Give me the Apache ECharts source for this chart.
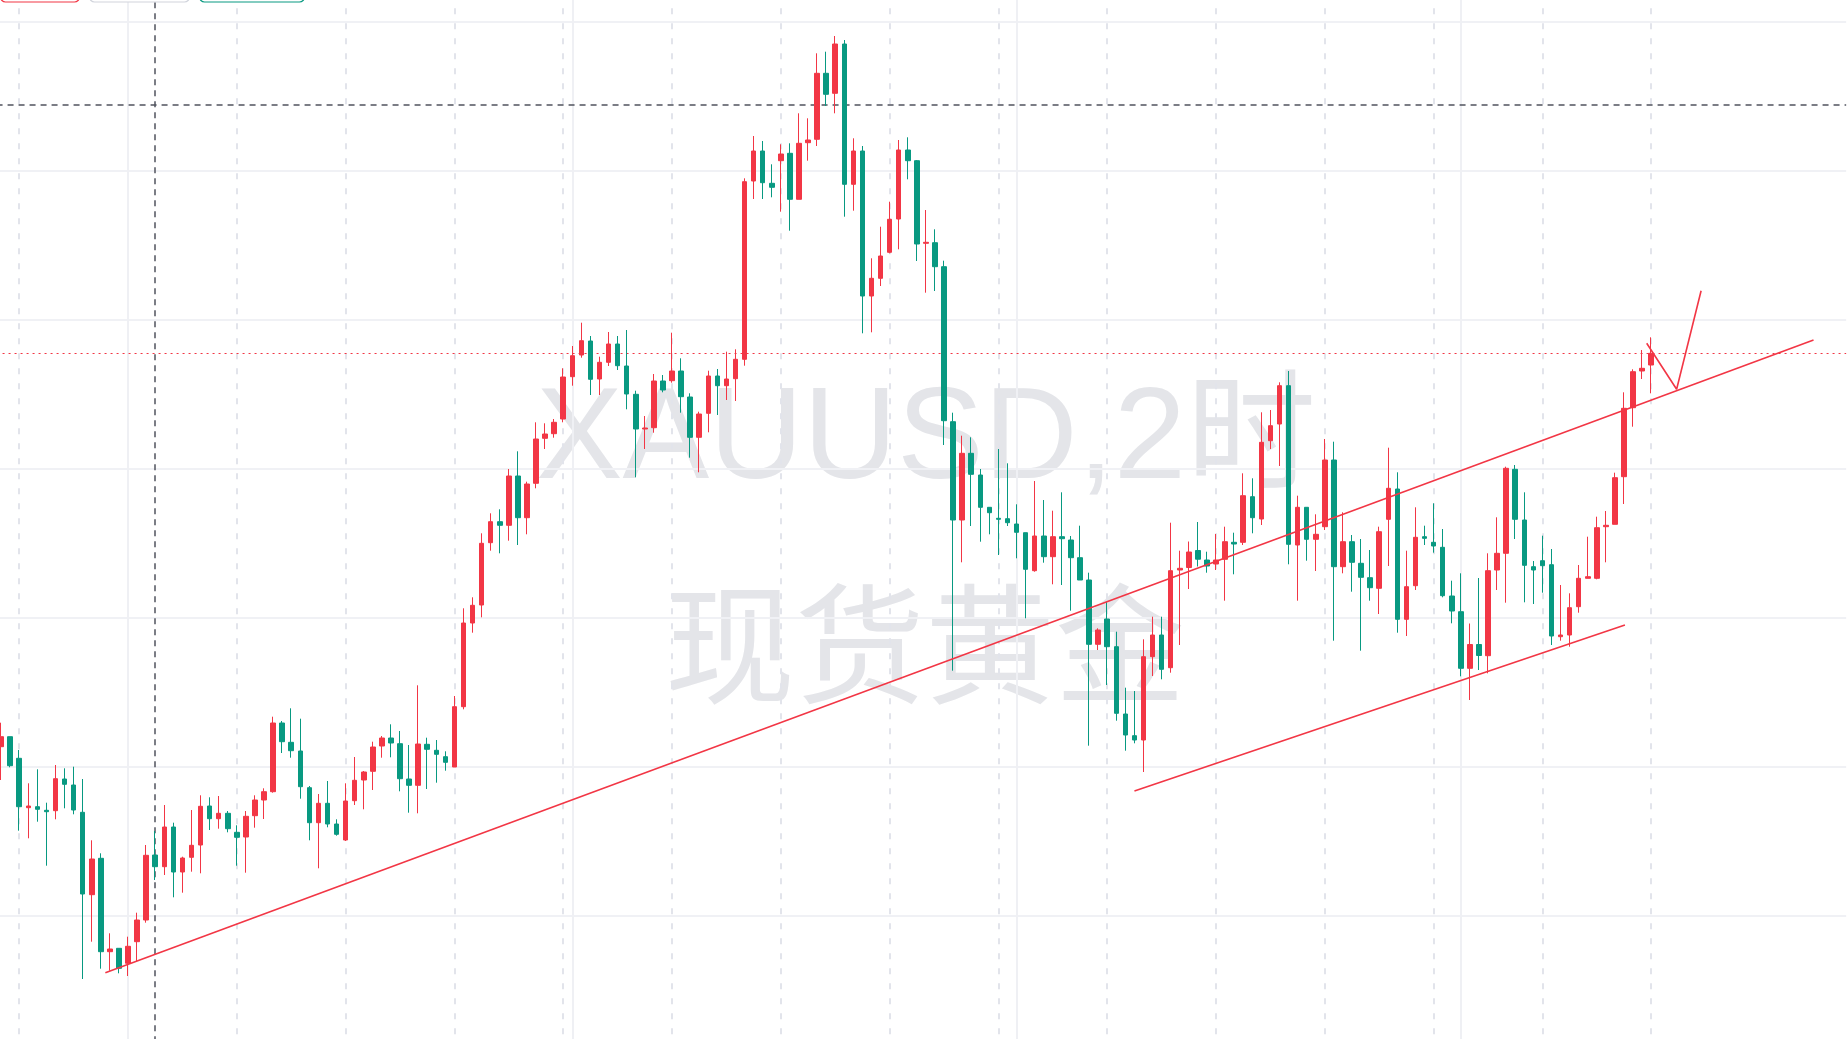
<!DOCTYPE html>
<html>
<head>
<meta charset="utf-8">
<title>XAUUSD 2时</title>
<script src="https://cdn.jsdelivr.net/npm/echarts@6/dist/echarts.min.js"></script>
<style>
  html, body { margin: 0; padding: 0; background: #ffffff; }
  #chart { width: 1847px; height: 1039px; }
</style>
</head>
<body>
<div id="chart"></div>
<script>
// 2小时K线 开/收/低/高
var opens = [
  2625.33, 2626.33, 2624.17, 2619.23, 2619.33, 2618.97, 2618.93, 2622.1, 2621.5, 2618.77,
  2610.53, 2614.17, 2604.83, 2605.17, 2603.67, 2605.83, 2608.0, 2614.5, 2613.33, 2617.3,
  2612.8, 2614.27, 2615.5, 2619.4, 2618.13, 2618.67, 2616.77, 2616.3, 2618.43, 2620.0,
  2620.83, 2627.7, 2625.77, 2624.9, 2621.23, 2617.73, 2619.67, 2617.6, 2616.0, 2619.93,
  2622.0, 2622.87, 2625.4, 2626.2, 2625.63, 2622.1, 2621.47, 2625.57, 2624.97, 2624.33,
  2623.3, 2629.33, 2637.7, 2639.5, 2645.73, 2647.83, 2647.47, 2652.4, 2648.23, 2651.67,
  2656.17, 2656.63, 2658.1, 2662.33, 2664.5, 2665.9, 2662.1, 2663.77, 2665.6, 2663.4,
  2660.57, 2657.1, 2657.23, 2661.9, 2661.93, 2662.9, 2660.3, 2656.27, 2658.67, 2662.4,
  2661.43, 2662.13, 2664.07, 2681.9, 2684.9, 2681.67, 2683.93, 2684.67, 2680.07, 2685.73,
  2686.07, 2692.67, 2690.67, 2695.6, 2681.57, 2684.9, 2670.4, 2672.17, 2674.77, 2678.1,
  2685.0, 2683.93, 2675.67, 2675.73, 2673.33, 2657.83, 2648.0, 2654.67, 2652.5, 2649.27,
  2648.17, 2648.13, 2647.6, 2646.73, 2642.93, 2646.4, 2644.33, 2646.33, 2646.0, 2644.23,
  2642.0, 2635.57, 2638.1, 2635.33, 2628.6, 2626.43, 2626.0, 2634.33, 2636.5, 2633.23,
  2643.0, 2643.25, 2644.95, 2644.0, 2643.6, 2644.07, 2645.77, 2645.77, 2650.33, 2648.1,
  2655.93, 2657.6, 2661.43, 2645.5, 2649.27, 2646.07, 2647.33, 2654.0, 2643.33, 2645.83,
  2643.67, 2642.23, 2641.17, 2648.07, 2651.1, 2638.07, 2641.43, 2646.33, 2645.77, 2645.27,
  2640.4, 2638.83, 2633.17, 2635.55, 2634.43, 2643.0, 2644.67, 2653.07, 2648.0, 2643.33,
  2643.93, 2643.53, 2636.33, 2636.5, 2639.33, 2642.17, 2642.17, 2647.33, 2647.57, 2652.33,
  2659.23, 2662.9, 2663.5
];
var closes = [
  2626.33, 2623.43, 2619.33, 2619.4, 2619.07, 2618.83, 2622.13, 2621.57, 2619.0, 2610.6,
  2614.1, 2604.83, 2605.1, 2603.17, 2605.37, 2608.0, 2614.47, 2613.33, 2617.3, 2612.8,
  2614.2, 2615.47, 2619.37, 2618.13, 2618.67, 2617.13, 2616.27, 2618.37, 2620.0, 2620.83,
  2627.7, 2625.83, 2624.93, 2621.33, 2617.73, 2619.67, 2617.6, 2616.57, 2619.9, 2621.97,
  2622.8, 2625.3, 2626.2, 2625.7, 2622.13, 2621.47, 2625.6, 2625.07, 2624.57, 2623.77,
  2629.33, 2637.7, 2639.47, 2645.67, 2647.83, 2647.47, 2652.4, 2648.23, 2651.6, 2656.1,
  2656.6, 2657.77, 2662.3, 2664.43, 2665.93, 2662.07, 2663.77, 2665.6, 2663.43, 2660.6,
  2657.1, 2657.2, 2661.9, 2661.0, 2662.9, 2660.33, 2656.27, 2658.6, 2662.4, 2661.43,
  2662.1, 2664.07, 2681.83, 2684.9, 2681.73, 2681.27, 2684.6, 2680.07, 2685.67, 2686.0,
  2692.67, 2690.57, 2695.6, 2681.57, 2684.9, 2670.4, 2672.17, 2674.4, 2678.07, 2685.0,
  2683.93, 2675.6, 2675.77, 2673.33, 2657.93, 2648.0, 2654.67, 2652.57, 2649.27, 2648.73,
  2648.07, 2647.73, 2646.77, 2643.07, 2646.4, 2644.33, 2646.33, 2646.13, 2644.23, 2642.0,
  2635.57, 2637.0, 2635.33, 2628.67, 2626.5, 2626.0, 2634.33, 2636.5, 2633.07, 2642.93,
  2643.17, 2644.8, 2644.08, 2643.4, 2644.0, 2645.83, 2645.6, 2650.43, 2648.23, 2655.77,
  2657.43, 2661.43, 2645.57, 2649.27, 2646.07, 2646.57, 2654.0, 2643.33, 2645.83, 2643.77,
  2642.27, 2641.23, 2646.83, 2651.17, 2638.07, 2641.33, 2646.27, 2646.17, 2645.4, 2640.43,
  2638.9, 2633.17, 2635.55, 2634.45, 2642.93, 2644.67, 2653.17, 2648.07, 2643.47, 2643.0,
  2643.43, 2636.4, 2636.5, 2639.23, 2642.17, 2642.33, 2647.23, 2647.47, 2652.23, 2659.17,
  2662.83, 2663.17, 2664.67
];
var lows = [
  2622.0, 2623.27, 2616.93, 2616.17, 2617.83, 2613.43, 2618.07, 2619.17, 2618.57, 2602.1,
  2605.83, 2603.13, 2602.93, 2602.67, 2602.4, 2603.9, 2607.73, 2612.0, 2612.5, 2610.27,
  2610.73, 2612.83, 2612.67, 2617.0, 2617.13, 2616.77, 2613.43, 2612.73, 2617.23, 2618.1,
  2620.73, 2624.7, 2624.23, 2620.13, 2615.97, 2613.17, 2617.27, 2616.43, 2615.9, 2619.5,
  2619.07, 2621.0, 2624.23, 2624.27, 2620.87, 2618.73, 2618.67, 2621.1, 2621.73, 2622.93,
  2623.3, 2629.07, 2636.73, 2638.27, 2644.93, 2644.67, 2645.93, 2645.5, 2646.57, 2651.17,
  2655.1, 2656.23, 2657.77, 2661.43, 2664.23, 2660.5, 2660.5, 2663.4, 2663.0, 2659.07,
  2652.27, 2655.1, 2656.73, 2660.77, 2661.73, 2658.73, 2654.23, 2652.77, 2656.77, 2658.5,
  2660.0, 2659.9, 2663.43, 2680.1, 2680.1, 2680.27, 2678.83, 2676.93, 2680.07, 2683.93,
  2685.4, 2689.4, 2688.67, 2678.33, 2678.93, 2666.67, 2666.77, 2671.4, 2674.67, 2675.07,
  2682.07, 2673.9, 2670.73, 2670.9, 2655.5, 2632.93, 2643.77, 2647.4, 2645.83, 2646.57,
  2644.5, 2647.4, 2644.17, 2638.17, 2642.83, 2643.73, 2641.57, 2641.5, 2638.93, 2642.0,
  2625.43, 2635.0, 2631.5, 2627.93, 2624.93, 2625.67, 2622.8, 2632.4, 2632.07, 2632.73,
  2635.5, 2641.1, 2643.35, 2642.73, 2643.0, 2639.93, 2642.57, 2645.5, 2646.67, 2647.5,
  2655.1, 2653.4, 2643.57, 2639.93, 2643.93, 2642.9, 2647.0, 2635.93, 2642.67, 2640.83,
  2634.93, 2639.93, 2638.6, 2643.4, 2636.73, 2636.4, 2641.0, 2645.5, 2644.73, 2640.27,
  2637.67, 2632.37, 2630.0, 2633.0, 2632.67, 2641.0, 2639.73, 2646.1, 2639.77, 2639.6,
  2640.73, 2635.5, 2635.93, 2635.33, 2638.73, 2642.17, 2642.07, 2643.77, 2647.57, 2649.6,
  2657.33, 2662.1, 2660.67
];
var highs = [
  2627.73, 2626.33, 2625.0, 2621.67, 2623.07, 2619.73, 2623.5, 2623.17, 2623.33, 2622.1,
  2615.97, 2614.67, 2606.67, 2605.17, 2606.33, 2608.73, 2615.5, 2616.9, 2619.5, 2617.73,
  2614.33, 2619.0, 2620.47, 2620.27, 2620.4, 2618.9, 2617.47, 2618.9, 2620.47, 2621.17,
  2628.33, 2627.9, 2629.17, 2628.13, 2621.4, 2620.6, 2621.9, 2618.07, 2621.67, 2624.3,
  2622.9, 2625.83, 2626.4, 2627.57, 2626.9, 2625.5, 2631.47, 2626.23, 2626.0, 2624.87,
  2630.4, 2639.17, 2640.27, 2646.67, 2648.67, 2649.07, 2653.1, 2654.87, 2651.83, 2657.77,
  2657.67, 2658.1, 2663.17, 2665.4, 2667.73, 2666.4, 2664.33, 2666.8, 2666.4, 2667.0,
  2660.93, 2658.4, 2662.6, 2662.5, 2666.73, 2664.17, 2660.67, 2658.83, 2662.93, 2663.1,
  2664.83, 2665.07, 2682.17, 2686.4, 2685.9, 2683.57, 2685.57, 2685.67, 2688.67, 2688.17,
  2694.67, 2694.83, 2696.4, 2696.0, 2686.17, 2685.4, 2674.17, 2677.33, 2679.83, 2686.0,
  2686.27, 2684.0, 2679.0, 2677.07, 2673.93, 2658.73, 2656.43, 2656.27, 2653.1, 2649.27,
  2655.1, 2653.67, 2649.57, 2646.73, 2651.9, 2650.0, 2648.93, 2650.77, 2646.4, 2647.43,
  2642.73, 2637.17, 2639.83, 2636.83, 2631.23, 2630.9, 2636.07, 2638.33, 2638.33, 2647.73,
  2644.93, 2645.85, 2647.8, 2644.83, 2646.6, 2647.33, 2646.73, 2652.67, 2652.17, 2658.77,
  2659.0, 2661.77, 2662.9, 2650.43, 2649.27, 2648.57, 2656.1, 2655.83, 2648.77, 2646.5,
  2646.1, 2645.0, 2647.33, 2655.23, 2652.77, 2644.93, 2649.27, 2647.43, 2649.67, 2647.1,
  2641.93, 2642.67, 2637.65, 2642.2, 2644.67, 2648.27, 2653.33, 2653.5, 2650.77, 2643.9,
  2646.43, 2645.1, 2641.5, 2640.67, 2643.5, 2646.33, 2648.33, 2648.9, 2652.73, 2660.77,
  2663.07, 2665.0, 2666.27
];

// 横轴槽位（含右侧留白）
var slotCount = 204;
var slots = [];
for (var s = 0; s < slotCount; s++) slots.push(String(s));

// 日分隔虚线 / 周分隔实线 所在K线序号
var dayLines = [2, 14, 26, 38, 50, 62, 74, 86, 98, 110, 122, 134, 146, 158, 170, 182];
var weekLines = [14, 63, 112, 161];

// 画线：[K线序号, 价格]
var trendUpper = [[11.5, 2602.73], [199.9, 2666.0]];
var trendLower = [[125.0, 2620.9], [179.1, 2637.5]];
var pathArrow = [[181.5, 2665.67], [184.8, 2661.07], [187.5, 2670.93]];

// 十字光标
var crossIndex = 17;
var crossPrice = 2689.5;

var RED = '#f23645';
var GREEN = '#089981';

var chart = echarts.init(document.getElementById('chart'));

var candleData = opens.map(function (o, i) {
  return [o, closes[i], lows[i], highs[i]];
});
var lastPrice = closes[closes.length - 1];

var gridMarks = dayLines.map(function (v) {
  return { xAxis: v, lineStyle: { color: '#e2e4eb', width: 2, type: [6, 9] } };
}).concat(weekLines.map(function (v) {
  return { xAxis: v, lineStyle: { color: '#eff0f4', width: 2, type: 'solid' } };
}));

function drawLine(name, data) {
  return {
    name: name,
    type: 'line',
    xAxisIndex: 1,
    yAxisIndex: 0,
    data: data,
    symbol: 'none',
    silent: true,
    zlevel: 1,
    z: 4,
    lineStyle: { color: RED, width: 1.6 }
  };
}

var option = {
  backgroundColor: '#ffffff',
  animation: false,
  grid: {
    left: -3.43,
    top: -126.9,
    width: 1849.6,
    height: 1191.2,
    containLabel: false,
    outerBoundsMode: 'none'
  },
  xAxis: [
    { type: 'category', data: slots, boundaryGap: true, show: false },
    { type: 'value', min: -0.5, max: slotCount - 0.5, show: false }
  ],
  yAxis: [
    { type: 'value', min: 2593.57, max: 2712.69, show: false },
    {
      type: 'value', min: 0, max: 8, interval: 1,
      axisLine: { show: false }, axisTick: { show: false }, axisLabel: { show: false },
      splitLine: { show: true, lineStyle: { color: '#f0f1f5', width: 2 } }
    }
  ],
  graphic: [
    {
      type: 'text', x: 926, y: 442.5, z: 0, silent: true,
      style: {
        text: 'XAUUSD,2时',
        font: '130px "Liberation Sans", "Noto Sans CJK SC", sans-serif',
        fill: '#e4e5e9',
        textAlign: 'center', align: 'center',
        textVerticalAlign: 'middle', verticalAlign: 'middle'
      }
    },
    {
      type: 'text', x: 925, y: 644, z: 0, silent: true,
      style: {
        text: '现货黄金',
        font: '130px "Noto Sans CJK SC", sans-serif',
        fill: '#e4e5e9',
        textAlign: 'center', align: 'center',
        textVerticalAlign: 'middle', verticalAlign: 'middle'
      }
    },
    { type: 'rect', z: 10, shape: { x: 0.5, y: -30, width: 79, height: 32, r: 5 },
      style: { fill: '#ffffff', stroke: RED, lineWidth: 1.2 } },
    { type: 'rect', z: 10, shape: { x: 89.5, y: -30, width: 100, height: 32, r: 5 },
      style: { fill: '#ffffff', stroke: '#d1d4dc', lineWidth: 1.2 } },
    { type: 'rect', z: 10, shape: { x: 199.5, y: -30, width: 105, height: 32, r: 5 },
      style: { fill: '#ffffff', stroke: GREEN, lineWidth: 1.2 } }
  ],
  series: [
    {
      name: 'grid',
      type: 'line',
      xAxisIndex: 1,
      yAxisIndex: 1,
      data: [[0, 0]],
      symbol: 'none',
      silent: true,
      z: 1,
      lineStyle: { opacity: 0 },
      markLine: {
        silent: true, symbol: ['none', 'none'], animation: false,
        label: { show: false },
        emphasis: { disabled: true },
        data: gridMarks
      }
    },
    {
      name: 'XAUUSD',
      type: 'candlestick',
      xAxisIndex: 0,
      yAxisIndex: 0,
      data: candleData,
      barWidth: 5,
      zlevel: 1,
      z: 3,
      silent: true,
      itemStyle: {
        color: RED, color0: GREEN,
        borderColor: RED, borderColor0: GREEN,
        borderWidth: 1
      }
    },
    drawLine('trendUpper', trendUpper),
    drawLine('trendLower', trendLower),
    drawLine('pathArrow', pathArrow),
    {
      name: 'cursor',
      type: 'line',
      xAxisIndex: 1,
      yAxisIndex: 0,
      data: [[0, lastPrice]],
      symbol: 'none',
      silent: true,
      zlevel: 1,
      z: 5,
      lineStyle: { opacity: 0 },
      markLine: {
        silent: true, symbol: ['none', 'none'], animation: false,
        label: { show: false },
        emphasis: { disabled: true },
        data: [
          { yAxis: lastPrice, lineStyle: { color: RED, width: 1, type: [2, 4] } },
          { xAxis: crossIndex, lineStyle: { color: '#50535e', width: 1.5, type: [6, 5] } },
          { yAxis: crossPrice, lineStyle: { color: '#50535e', width: 1.5, type: [6, 5] } }
        ]
      }
    }
  ]
};

chart.setOption(option);
</script>
</body>
</html>
